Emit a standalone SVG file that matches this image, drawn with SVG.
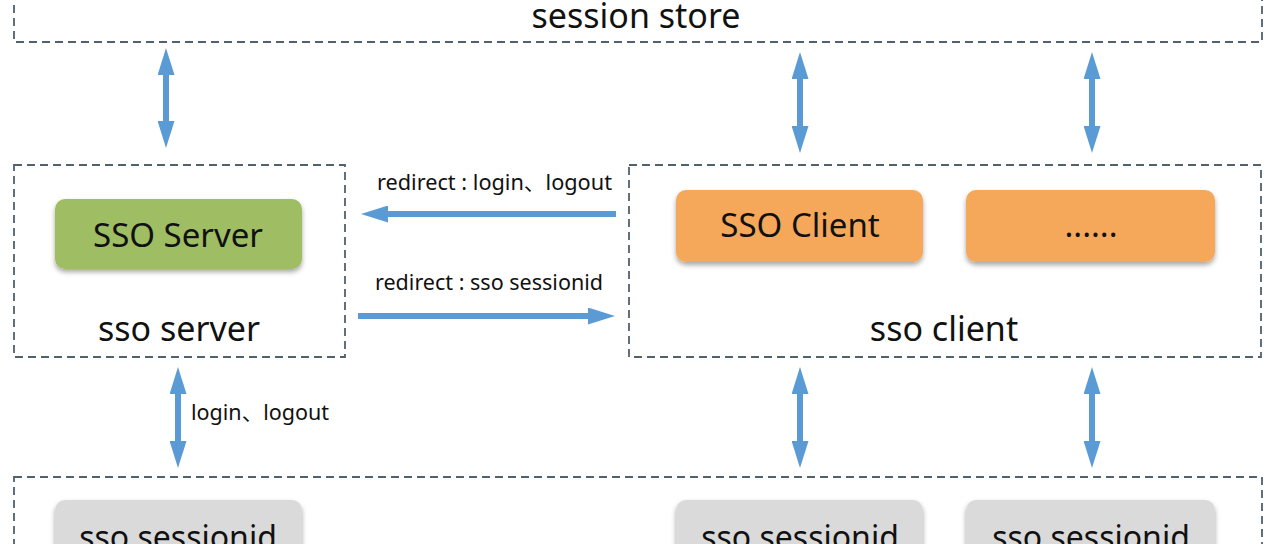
<svg xmlns="http://www.w3.org/2000/svg" width="1280" height="544" viewBox="0 0 1280 544">
<style>
.grp{fill:none;stroke:#52616e;stroke-width:1.8;stroke-dasharray:8 5}
.t{font-family:"Noto Sans","Noto Sans CJK SC",sans-serif;fill:#111;text-anchor:middle}
.big{font-size:34px}
.box{font-size:33px}
.sid{font-size:32px}
.lbl{font-size:21px;text-anchor:start}
.arrow{stroke:#5b9bd5;stroke-width:6;fill:none}
.green{fill:#9fbd63}
.orange{fill:#f5a75a}
.gray{fill:#dadada}
</style>
<defs>
<marker id="ah" viewBox="0 0 27 17" refX="0" refY="8.5" markerWidth="27" markerHeight="17" markerUnits="userSpaceOnUse" orient="auto-start-reverse">
<path d="M0,0 L27,8.5 L0,17 z" fill="#5b9bd5"/>
</marker>
<filter id="sh" x="-10%" y="-20%" width="120%" height="150%">
<feDropShadow dx="0" dy="3" stdDeviation="2.5" flood-color="#000" flood-opacity="0.35"/>
</filter>
</defs>
<rect width="1280" height="544" fill="#fff"/>

<g id="session-store">
<rect class="grp" x="14" y="-20" width="1248" height="62"/>
<text class="t big" x="636" y="28">session store</text>
</g>

<g id="sso-server-group">
<rect class="grp" x="14" y="165" width="331" height="192"/>
<text class="t big" x="179" y="341">sso server</text>
</g>
<g id="sso-server">
<rect class="green" x="55" y="199" width="247" height="70" rx="10" filter="url(#sh)"/>
<text class="t box" x="178" y="247">SSO Server</text>
</g>

<g id="sso-client-group">
<rect class="grp" x="629" y="165" width="632" height="192"/>
<text class="t big" x="944" y="341">sso client</text>
</g>
<g id="sso-client">
<rect class="orange" x="676" y="190" width="247" height="72" rx="10" filter="url(#sh)"/>
<text class="t box" x="800" y="237">SSO Client</text>
</g>
<g id="client-more">
<rect class="orange" x="966" y="190" width="249" height="72" rx="10" filter="url(#sh)"/>
<text class="t box" x="1091" y="237">......</text>
</g>

<g id="sessionid-store">
<rect class="grp" x="14" y="477" width="1248" height="100"/>
</g>
<g id="sessionid-1">
<rect class="gray" x="55" y="500" width="247" height="70" rx="10" filter="url(#sh)"/>
<text class="t sid" x="178" y="549">sso sessionid</text>
</g>
<g id="sessionid-2">
<rect class="gray" x="676" y="500" width="247" height="70" rx="10" filter="url(#sh)"/>
<text class="t sid" x="800" y="549">sso sessionid</text>
</g>
<g id="sessionid-3">
<rect class="gray" x="966" y="500" width="249" height="70" rx="10" filter="url(#sh)"/>
<text class="t sid" x="1091" y="549">sso sessionid</text>
</g>

<g id="connectors">
<line class="arrow" x1="166" y1="75" x2="166" y2="121" marker-start="url(#ah)" marker-end="url(#ah)"/>
<line class="arrow" x1="800" y1="79" x2="800" y2="126" marker-start="url(#ah)" marker-end="url(#ah)"/>
<line class="arrow" x1="1092" y1="79" x2="1092" y2="126" marker-start="url(#ah)" marker-end="url(#ah)"/>
<line class="arrow" x1="178" y1="394" x2="178" y2="441" marker-start="url(#ah)" marker-end="url(#ah)"/>
<line class="arrow" x1="800" y1="394" x2="800" y2="441" marker-start="url(#ah)" marker-end="url(#ah)"/>
<line class="arrow" x1="1092" y1="394" x2="1092" y2="441" marker-start="url(#ah)" marker-end="url(#ah)"/>
<line class="arrow" x1="616" y1="214" x2="388" y2="214" marker-end="url(#ah)"/>
<line class="arrow" x1="358" y1="316" x2="588" y2="316" marker-end="url(#ah)"/>
<text class="t lbl" x="377" y="190" textLength="235" lengthAdjust="spacingAndGlyphs">redirect : login、logout</text>
<text class="t lbl" x="375" y="290" textLength="228" lengthAdjust="spacingAndGlyphs">redirect : sso sessionid</text>
<text class="t lbl" x="191" y="420" textLength="138" lengthAdjust="spacingAndGlyphs">login、logout</text>
</g>
</svg>
